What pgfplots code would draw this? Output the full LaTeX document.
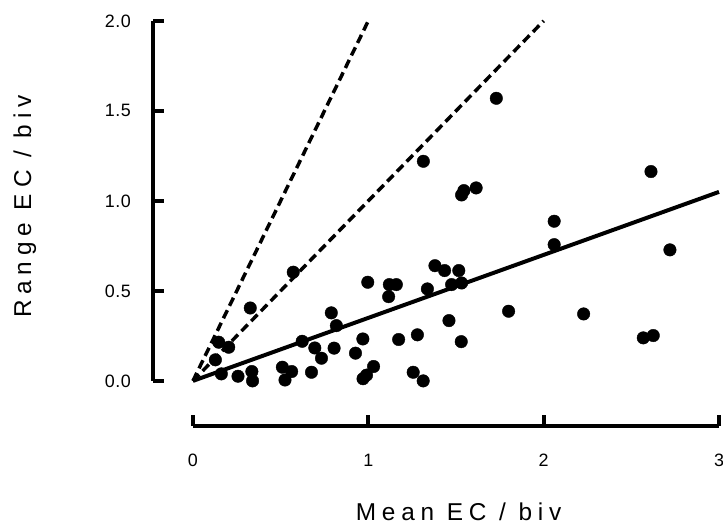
\documentclass[border=0pt]{standalone}
\usepackage{fontspec}
\setmainfont{Liberation Sans}
\newfontfamily\tickfont[LetterSpace=3]{Liberation Sans}
\newfontfamily\labfont[LetterSpace=24]{Liberation Sans}
\usepackage{pgfplots}
\pgfplotsset{compat=1.18}
\newcommand\tk[1]{\hbox{\tickfont\fontsize{18}{21}\selectfont #1}}

\pgfplotstableread{
x y
0.128 0.117
0.147 0.215
0.162 0.039
0.204 0.187
0.257 0.026
0.327 0.405
0.336 0.052
0.340 0.000
0.510 0.076
0.525 0.005
0.563 0.052
0.572 0.604
0.623 0.220
0.676 0.048
0.695 0.183
0.733 0.126
0.789 0.378
0.805 0.182
0.818 0.307
0.927 0.154
0.969 0.233
0.970 0.012
0.990 0.032
1.030 0.080
0.997 0.548
1.116 0.468
1.120 0.535
1.160 0.535
1.173 0.230
1.256 0.048
1.280 0.256
1.313 0.000
1.314 1.220
1.337 0.511
1.380 0.640
1.435 0.613
1.460 0.335
1.475 0.535
1.516 0.613
1.532 0.544
1.530 0.218
1.532 1.033
1.545 1.057
1.615 1.072
1.730 1.570
1.800 0.387
2.060 0.887
2.060 0.757
2.228 0.372
2.568 0.239
2.612 1.163
2.625 0.252
2.720 0.728
}\ecdata

\begin{document}
\begin{tikzpicture}
\begin{axis}[
  scale only axis, width=529pt, height=362pt,
  xmin=0, xmax=3, ymin=0, ymax=2,
  separate axis lines,
  axis x line*=bottom, axis y line*=left,
  axis x line shift=45pt, axis y line shift=40pt,
  axis line style={line width=4pt, black},
  tick align=inside, major tick length=11pt,
  tick style={line width=4pt, black},
  xtick={0,1,2,3}, xticklabels={\tk{0},\tk{1},\tk{2},\tk{3}},
  ytick={0,0.5,1,1.5,2}, yticklabels={\tk{0.0},\tk{0.5},\tk{1.0},\tk{1.5},\tk{2.0}},
  xticklabel style={yshift=-25pt},
  yticklabel style={xshift=-19pt},
  xlabel={Mean EC / biv}, ylabel={Range EC / biv},
  xlabel style={font=\labfont\fontsize{24.5}{28}\selectfont,
    at={(axis description cs:0.505,-0.388)}, anchor=base},
  ylabel style={font=\labfont\fontsize{24.5}{28}\selectfont,
    at={(axis description cs:-0.3195,0.484)}, anchor=center},
  clip=false,
]
\addplot[black, line width=3.5pt, dash pattern=on 9pt off 5pt] coordinates {(0,0) (1,2)};
\addplot[black, line width=3.5pt, dash pattern=on 9pt off 5pt] coordinates {(0,0) (2,2)};
\addplot[black, line width=4pt] coordinates {(0,0) (3,1.05)};
\addplot[only marks, mark=*, mark size=6.3pt, black] table {\ecdata};
\coordinate (o) at (axis cs:0,0);
\end{axis}
\pgfresetboundingbox
\path[use as bounding box] ([shift={(-194pt,-145pt)}]o) rectangle ([shift={(533pt,383pt)}]o);
\end{tikzpicture}
\end{document}
